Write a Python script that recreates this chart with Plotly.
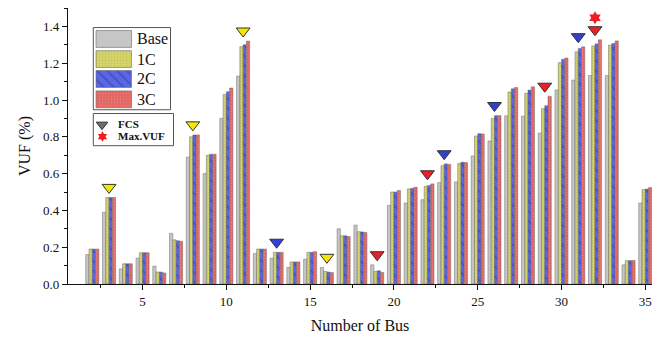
import plotly.graph_objects as go

# ---------------- data ----------------
bus = list(range(2, 36))
base = [0.16, 0.39, 0.082, 0.14, 0.097, 0.275, 0.69, 0.60, 0.90, 1.13,
        0.165, 0.14, 0.09, 0.135, 0.09, 0.30, 0.32, 0.104, 0.427, 0.44,
        0.458, 0.551, 0.555, 0.696, 0.777, 0.914, 0.912, 0.82, 1.055, 1.108,
        1.133, 1.133, 0.104, 0.44]
c1 = [0.19, 0.47, 0.11, 0.17, 0.065, 0.24, 0.80, 0.70, 1.03, 1.29,
      0.19, 0.172, 0.12, 0.172, 0.068, 0.262, 0.284, 0.068, 0.50, 0.517,
      0.531, 0.643, 0.655, 0.804, 0.90, 1.043, 1.036, 0.953, 1.203, 1.262,
      1.294, 1.298, 0.127, 0.513]
c2 = [0.19, 0.47, 0.11, 0.17, 0.065, 0.235, 0.81, 0.705, 1.045, 1.30,
      0.19, 0.172, 0.12, 0.172, 0.065, 0.262, 0.283, 0.072, 0.50, 0.52,
      0.535, 0.653, 0.662, 0.817, 0.915, 1.061, 1.054, 0.969, 1.221, 1.28,
      1.305, 1.307, 0.127, 0.516]
c3 = [0.19, 0.47, 0.11, 0.17, 0.06, 0.232, 0.81, 0.705, 1.065, 1.32,
      0.19, 0.172, 0.12, 0.176, 0.062, 0.258, 0.28, 0.063, 0.508, 0.526,
      0.544, 0.65, 0.66, 0.815, 0.915, 1.068, 1.072, 1.02, 1.228, 1.289,
      1.327, 1.321, 0.128, 0.524]
series_names = ["Base", "1C", "2C", "3C"]
fcs_bus = [3, 8, 11, 13, 16, 19, 22, 23, 26, 29, 31, 32]
fcs_type = ["1C", "1C", "1C", "2C", "1C", "3C", "3C", "2C", "2C", "3C", "2C", "3C"]
maxvuf_bus = [32]
x_ticks = [5, 10, 15, 20, 25, 30, 35]

# ---------------- styles ----------------
FONT = "Liberation Serif"
colors = {"Base": "#c6c6c6", "1C": "#d6d66c", "2C": "#5a66e6", "3C": "#e2625f"}
patterns = {
    "Base": dict(shape=""),
    "1C": dict(shape="+", fgcolor="#a8a840", size=3, solidity=0.25),
    "2C": dict(shape="\\", fgcolor="#27307a", size=7, solidity=0.2),
    "3C": dict(shape=".", fgcolor="#f09a98", size=3, solidity=0.3),
}
tri_colors = {"1C": "#f5e800", "2C": "#3340d8", "3C": "#e8202a"}

fig = go.Figure()
vals = {"Base": base, "1C": c1, "2C": c2, "3C": c3}
for name in series_names:
    fig.add_trace(go.Bar(
        x=bus, y=vals[name], name=name,
        marker=dict(color=colors[name], line=dict(color="#6a6a6a", width=0.5),
                    pattern=patterns[name]),
        showlegend=False))

group_max = {b: max(base[i], c1[i], c2[i], c3[i]) for i, b in enumerate(bus)}
fcs_y = [group_max[b] + 0.055 for b in fcs_bus]
fig.add_trace(go.Scatter(
    x=fcs_bus, y=fcs_y, mode="markers", showlegend=False,
    marker=dict(symbol="triangle-down", size=12,
                color=[tri_colors[t] for t in fcs_type],
                line=dict(color="#333", width=1))))
fig.add_trace(go.Scatter(
    x=maxvuf_bus, y=[group_max[b] + 0.12 for b in maxvuf_bus],
    mode="markers", showlegend=False,
    marker=dict(symbol="hexagram", size=10, color="#ee1c24",
                line=dict(color="#ee1c24", width=0))))

# ---------------- inset legend (pixel-like coordinates) ----------------
L, R, T, B = 68, 652, 8, 286
lx0, lx1, ly0, ly1 = 92, 176, 26, 148
sw_y = [39.2, 59.5, 79.5, 100.0]
for name, yy in zip(series_names, sw_y):
    fig.add_trace(go.Bar(
        x=[35.5], y=[yy], base=[96], orientation="h", width=17,
        marker=dict(color=colors[name], line=dict(color="#6a6a6a", width=0.6),
                    pattern=patterns[name]),
        xaxis="x2", yaxis="y2", showlegend=False, hoverinfo="skip"))
    fig.add_annotation(x=135, y=yy, xref="x2", yref="y2", text=name,
                       showarrow=False, xanchor="left", yanchor="middle",
                       font=dict(family=FONT, size=16, color="#111"))
fig.add_trace(go.Scatter(
    x=[102], y=[125.5], mode="markers", xaxis="x2", yaxis="y2",
    marker=dict(symbol="triangle-down", size=10, color="#6e6e6e",
                line=dict(color="#333", width=1)), showlegend=False, hoverinfo="skip"))
fig.add_trace(go.Scatter(
    x=[102.5], y=[137.5], mode="markers", xaxis="x2", yaxis="y2",
    marker=dict(symbol="hexagram", size=8, color="#ee1c24"), showlegend=False,
    hoverinfo="skip"))
fig.add_annotation(x=116, y=125, xref="x2", yref="y2", text="<b>FCS</b>",
                   showarrow=False, xanchor="left", yanchor="middle",
                   font=dict(family=FONT, size=11, color="#111"))
fig.add_annotation(x=116, y=137, xref="x2", yref="y2", text="<b>Max.VUF</b>",
                   showarrow=False, xanchor="left", yanchor="middle",
                   font=dict(family=FONT, size=11, color="#111"))
fig.add_shape(type="rect", xref="x2", yref="y2", x0=93.3, x1=170.5, y0=27.7, y1=110.5,
              line=dict(color="#555", width=1))
fig.add_shape(type="rect", xref="x2", yref="y2", x0=93.3, x1=173.5, y0=114.3, y1=146.7,
              line=dict(color="#555", width=1))

fig.update_layout(
    width=663, height=340,
    margin=dict(l=L, r=663 - R, t=T, b=340 - B),
    paper_bgcolor="white", plot_bgcolor="white",
    barmode="group", bargap=0.22, bargroupgap=0.0,
    font=dict(family=FONT, size=13, color="#111"),
    xaxis=dict(range=[0.55, 35.4], tickvals=x_ticks, ticks="outside", ticklen=5,
               tickwidth=1, tickcolor="#111", showline=True, linecolor="#111",
               linewidth=1.3, showgrid=False, zeroline=False,
               minor=dict(tick0=0, dtick=2.5, ticks="outside", ticklen=3,
                          tickcolor="#111"),
               title=dict(text="Number of Bus", font=dict(family=FONT, size=16),
                          standoff=12),
               tickfont=dict(family=FONT, size=13)),
    yaxis=dict(range=[0, 1.5], tickvals=[0, 0.2, 0.4, 0.6, 0.8, 1.0, 1.2, 1.4],
               tickformat=".1f", ticks="outside", ticklen=5, tickwidth=1,
               tickcolor="#111", showline=True, linecolor="#111", linewidth=1.3,
               showgrid=False, zeroline=False,
               minor=dict(tick0=0, dtick=0.1, ticks="outside", ticklen=3,
                          tickcolor="#111"),
               title=dict(text="VUF (%)", font=dict(family=FONT, size=16), standoff=8),
               tickfont=dict(family=FONT, size=13)),
    xaxis2=dict(domain=[(lx0 - L) / (R - L), (lx1 - L) / (R - L)], range=[lx0, lx1],
                visible=False, anchor="y2", fixedrange=True),
    yaxis2=dict(domain=[(B - ly1) / (B - T), (B - ly0) / (B - T)], range=[ly1, ly0],
                visible=False, anchor="x2", fixedrange=True),
)

fig.write_html("out.html", config={"displayModeBar": False},
               post_script="document.body.style.margin='0';document.body.style.overflow='hidden';")
